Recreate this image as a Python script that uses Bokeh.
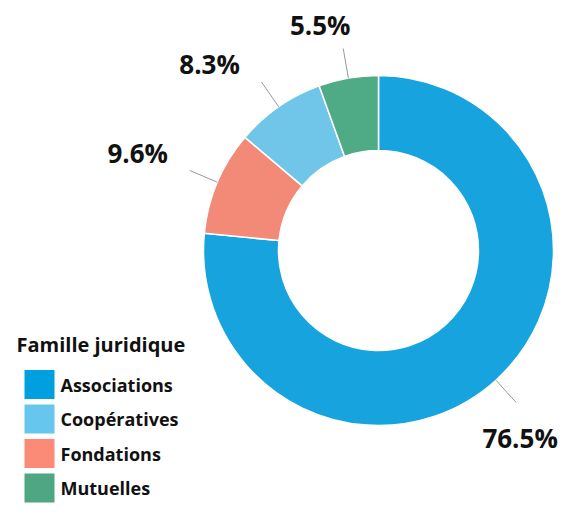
import math
from bokeh.plotting import figure
from bokeh.models import Range1d, ColumnDataSource
from bokeh.core.properties import value
from bokeh.embed import file_html
from bokeh.resources import INLINE

# ---- data ----
categories = ["Associations", "Fondations", "Coopératives", "Mutuelles"]   # pie order (clockwise from top)
shares = [76.5, 9.6, 8.3, 5.5]
labels = ["76.5%", "9.6%", "8.3%", "5.5%"]
slice_colors = ["#17a3dd", "#f28a77", "#70c6e9", "#4faa86"]

legend_title = "Famille juridique"
legend_names = ["Associations", "Coopératives", "Fondations", "Mutuelles"]
legend_colors = ["#009fe0", "#66c6ed", "#fb8a76", "#4fa683"]

# ---- styling ----
FONT = "Open Sans"
R_IN, R_OUT, R_LEAD = 100, 175, 205
label_dx = [4, -52, -52, -23]      # px offset of label centre from leader end
label_dy = [36, -17.5, -18.5, -23.5]   # (positive = downward)

W, H = 563, 510
CX, CY = 378, 250                  # donut centre in figure pixels
p = figure(width=W, height=H, output_backend="svg", toolbar_location=None,
           x_range=Range1d(-CX, W - CX), y_range=Range1d(CY - H, CY),
           min_border=0)
p.axis.visible = False
p.grid.visible = False
p.outline_line_color = None
p.background_fill_color = "white"
p.border_fill_color = "white"

total = sum(shares)
starts, ends, mids = [], [], []
acc = 0.0
for s in shares:
    a0 = math.pi / 2 - 2 * math.pi * acc / total
    acc += s
    a1 = math.pi / 2 - 2 * math.pi * acc / total
    starts.append(a0)
    ends.append(a1)
    mids.append((a0 + a1) / 2)

src = ColumnDataSource(dict(start=starts, end=ends, color=slice_colors))
p.annular_wedge(x=0, y=0, inner_radius=R_IN, outer_radius=R_OUT,
                start_angle="start", end_angle="end", direction="clock",
                fill_color="color", line_color="white", line_width=1.5,
                source=src)

# leader lines
xs = [[R_OUT * math.cos(m), R_LEAD * math.cos(m)] for m in mids]
ys = [[R_OUT * math.sin(m), R_LEAD * math.sin(m)] for m in mids]
p.multi_line(xs=xs, ys=ys, line_color="#999999", line_width=1)

lx = [R_LEAD * math.cos(m) for m in mids]
ly = [R_LEAD * math.sin(m) for m in mids]
p.text(x=lx, y=ly, text=labels, x_offset=label_dx, y_offset=label_dy,
       text_font=value(FONT), text_font_style="bold", text_font_size="26px",
       text_color="#111111", text_align="center", text_baseline="middle")

# ---- legend (drawn in data space; 1 unit = 1 px) ----
def px(xp):  # figure pixel x -> data x
    return xp - CX
def py(yp):  # figure pixel y -> data y
    return CY - yp

step = 34.5
first = 384
n = len(legend_names)
centres = [first + i * step for i in range(n)]

p.text(x=[px(16)], y=[py(first - 40)], text=[legend_title], text_font=value(FONT),
       text_font_style="bold", text_font_size="20px", text_color="#111111",
       text_align="left", text_baseline="middle")

p.rect(x=[px(39)] * n, y=[py(c) for c in centres], width=30, height=29,
       fill_color=legend_colors, line_color=None)
p.text(x=[px(60)] * n, y=[py(c) for c in centres],
       text=legend_names, text_font=value(FONT), text_font_style="bold",
       text_font_size="18px", text_color="#111111", text_align="left",
       text_baseline="middle")

open("out.html", "w").write(file_html(p, INLINE))
